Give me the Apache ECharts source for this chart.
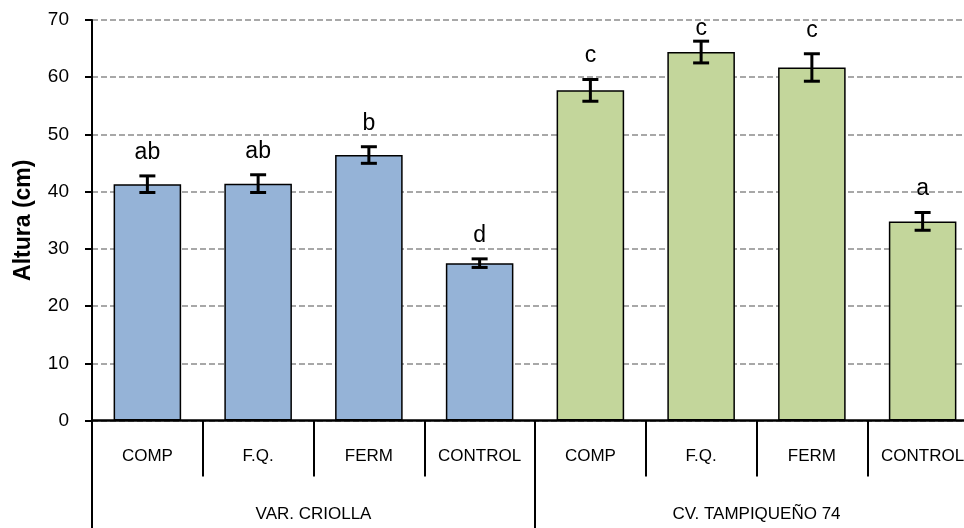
<!DOCTYPE html>
<html>
<head>
<meta charset="utf-8">
<script src="https://cdn.jsdelivr.net/npm/echarts@6/dist/echarts.min.js"></script>
<style>
  html, body { margin: 0; padding: 0; background: #fff; }
  #chart { width: 964px; height: 528px; }
</style>
</head>
<body>
<div id="chart"></div>
<script>
// Treatments on the lower axis row, cultivars on the row beneath
const categories = ['COMP', 'F.Q.', 'FERM', 'CONTROL', 'COMP', 'F.Q.', 'FERM', 'CONTROL'];
const groups = ['VAR. CRIOLLA', 'CV. TAMPIQUEÑO 74'];
// Group index of each bar (0 = criolla, 1 = tampiqueño)
const groupOf = [0, 0, 0, 0, 1, 1, 1, 1];
// Mean plant height (cm) and its standard error
const heights = [41.3, 41.4, 46.4, 27.5, 57.7, 64.4, 61.7, 34.8];
const errors = [1.45, 1.55, 1.45, 0.75, 1.9, 1.9, 2.4, 1.55];
// Mean-separation letters
const letters = ['ab', 'ab', 'b', 'd', 'c', 'c', 'c', 'a'];
const yTicks = { min: 0, max: 70, interval: 10 };

const FONT = "'Liberation Sans', Arial, sans-serif";
const groupColors = ['#95B3D7', '#C3D69B'];

const chart = echarts.init(document.getElementById('chart'), null, { renderer: 'canvas' });

const barData = heights.map((v, i) => ({
  value: v,
  itemStyle: { color: groupColors[groupOf[i]] }
}));

const errData = heights.map((v, i) => [i, v, errors[i]]);

function renderError(params, api) {
  const i = api.value(0);
  const mean = api.value(1);
  const err = api.value(2);
  const hi = api.coord([i, mean + err]);
  const lo = api.coord([i, mean - err]);
  const cap = 8;
  const lineStyle = { stroke: '#000', lineWidth: 3 };
  const top = params.coordSys.y;
  // letter sits above the whisker but stays inside the plot
  const textY = Math.max(hi[1] - 23.5, top + 9);
  return {
    type: 'group',
    children: [
      { type: 'line', shape: { x1: hi[0], y1: hi[1], x2: lo[0], y2: lo[1] }, style: lineStyle },
      { type: 'line', shape: { x1: hi[0] - cap, y1: hi[1], x2: hi[0] + cap, y2: hi[1] }, style: lineStyle },
      { type: 'line', shape: { x1: lo[0] - cap, y1: lo[1], x2: lo[0] + cap, y2: lo[1] }, style: lineStyle },
      {
        type: 'text',
        x: hi[0],
        y: textY,
        style: {
          text: letters[params.dataIndex],
          fill: '#000',
          font: '23px ' + FONT,
          align: 'center',
          verticalAlign: 'middle'
        }
      }
    ]
  };
}

chart.setOption({
  animation: false,
  grid: { left: 92, top: 20, width: 886, bottom: 107.5, outerBoundsMode: 'none', containLabel: false },
  xAxis: [
    {
      type: 'category',
      data: categories,
      position: 'bottom',
      axisLine: { lineStyle: { color: '#000', width: 2.5 } },
      axisTick: { show: true, length: 56, lineStyle: { color: '#000', width: 2 } },
      axisLabel: { interval: 0, margin: 27, color: '#000', fontSize: 17, fontFamily: FONT },
      splitLine: { show: false }
    },
    {
      type: 'category',
      data: groups,
      position: 'bottom',
      offset: 0,
      axisLine: { show: false },
      axisTick: { show: true, length: 108, lineStyle: { color: '#000', width: 2 } },
      axisLabel: { interval: 0, margin: 85, color: '#000', fontSize: 17, fontFamily: FONT },
      splitLine: { show: false }
    }
  ],
  yAxis: {
    type: 'value',
    min: yTicks.min,
    max: yTicks.max,
    interval: yTicks.interval,
    name: 'Altura (cm)',
    nameLocation: 'middle',
    nameGap: 57,
    nameRotate: 90,
    nameTextStyle: { color: '#000', fontSize: 23, fontWeight: 'bold', fontFamily: FONT },
    axisLine: { show: true, lineStyle: { color: '#000', width: 2 } },
    axisTick: { show: true, length: 7, lineStyle: { color: '#000', width: 2 } },
    axisLabel: { margin: 23, color: '#000', fontSize: 19, fontFamily: FONT },
    splitLine: { show: true, lineStyle: { color: '#8c8c8c', width: 1.5, type: [6, 3] } }
  },
  series: [
    {
      type: 'bar',
      xAxisIndex: 0,
      data: barData,
      barWidth: '61%',
      itemStyle: { borderColor: '#000', borderWidth: 1.5 },
      z: 2
    },
    {
      type: 'custom',
      xAxisIndex: 0,
      data: errData,
      renderItem: renderError,
      encode: { x: 0, y: 1 },
      z: 3
    }
  ]
});
</script>
</body>
</html>
